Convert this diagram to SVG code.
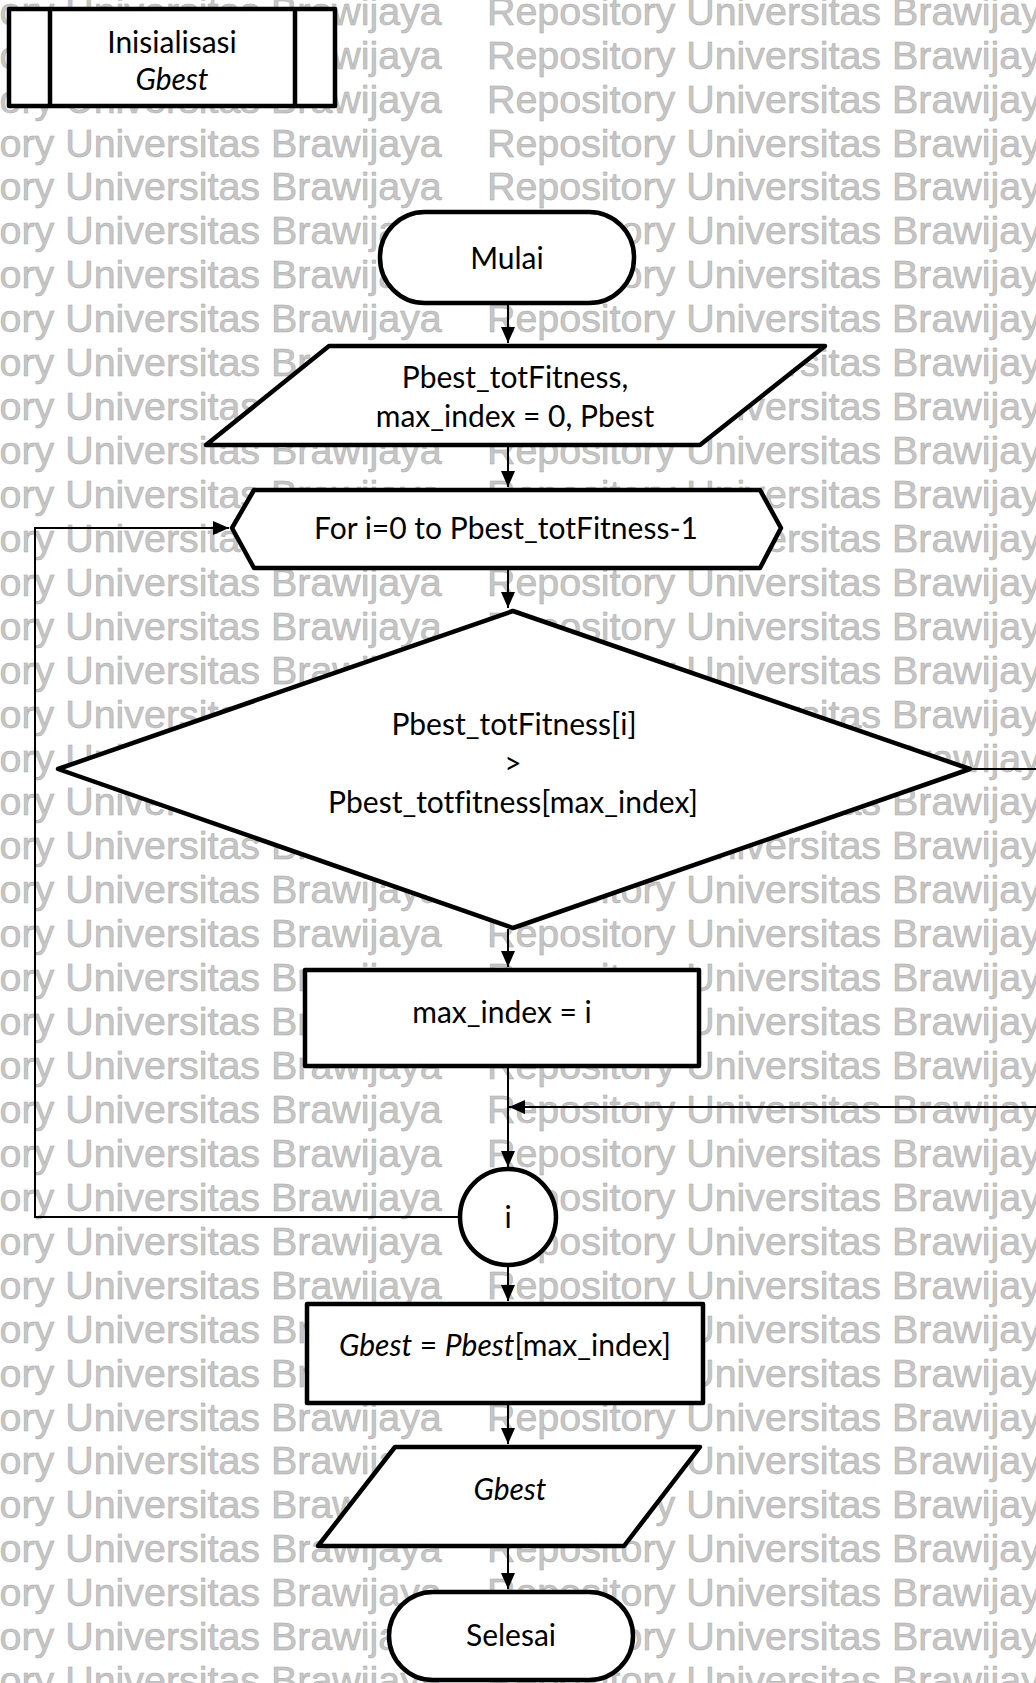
<svg xmlns="http://www.w3.org/2000/svg" xmlns:xlink="http://www.w3.org/1999/xlink" width="1036" height="1683" viewBox="0 0 1036 1683">
  <defs>
    <marker id="arrow" viewBox="0 0 16 14" refX="16" refY="7" markerWidth="16" markerHeight="14" markerUnits="userSpaceOnUse" orient="auto">
      <path d="M0,0 L16,7 L0,14 z" fill="#000"/>
    </marker>
  </defs>
  <style>
    .wm { font-family: "Liberation Sans", Arial, sans-serif; font-size: 39.4px; fill: #c6c6c6; stroke: #a8a8a8; stroke-width: 0.5px; }
    .shape { fill: #fff; stroke: #000; stroke-width: 4.5; stroke-linejoin: round; }
    .divider { fill: none; stroke: #000; stroke-width: 4.5; }
    .edge { fill: none; stroke: #000; stroke-width: 2; marker-end: url(#arrow); }
    .label { font-family: Lato, "Open Sans", sans-serif; font-size: 30px; fill: #000; text-anchor: middle; font-variant-ligatures: none; }
    .it { font-style: italic; }
  </style>

  <rect width="1036" height="1683" fill="#fff"/>

  <!-- repository watermark rows -->
  <g id="watermark">
    <text class="wm" y="24.7"><tspan x="-134">Repository Universitas Brawijaya</tspan><tspan x="487">Repository Universitas Brawijaya</tspan></text>
    <text class="wm" y="68.6"><tspan x="-134">Repository Universitas Brawijaya</tspan><tspan x="487">Repository Universitas Brawijaya</tspan></text>
    <text class="wm" y="112.6"><tspan x="-134">Repository Universitas Brawijaya</tspan><tspan x="487">Repository Universitas Brawijaya</tspan></text>
    <text class="wm" y="156.5"><tspan x="-134">Repository Universitas Brawijaya</tspan><tspan x="487">Repository Universitas Brawijaya</tspan></text>
    <text class="wm" y="200.4"><tspan x="-134">Repository Universitas Brawijaya</tspan><tspan x="487">Repository Universitas Brawijaya</tspan></text>
    <text class="wm" y="244.4"><tspan x="-134">Repository Universitas Brawijaya</tspan><tspan x="487">Repository Universitas Brawijaya</tspan></text>
    <text class="wm" y="288.3"><tspan x="-134">Repository Universitas Brawijaya</tspan><tspan x="487">Repository Universitas Brawijaya</tspan></text>
    <text class="wm" y="332.2"><tspan x="-134">Repository Universitas Brawijaya</tspan><tspan x="487">Repository Universitas Brawijaya</tspan></text>
    <text class="wm" y="376.1"><tspan x="-134">Repository Universitas Brawijaya</tspan><tspan x="487">Repository Universitas Brawijaya</tspan></text>
    <text class="wm" y="420.1"><tspan x="-134">Repository Universitas Brawijaya</tspan><tspan x="487">Repository Universitas Brawijaya</tspan></text>
    <text class="wm" y="464"><tspan x="-134">Repository Universitas Brawijaya</tspan><tspan x="487">Repository Universitas Brawijaya</tspan></text>
    <text class="wm" y="507.9"><tspan x="-134">Repository Universitas Brawijaya</tspan><tspan x="487">Repository Universitas Brawijaya</tspan></text>
    <text class="wm" y="551.9"><tspan x="-134">Repository Universitas Brawijaya</tspan><tspan x="487">Repository Universitas Brawijaya</tspan></text>
    <text class="wm" y="595.8"><tspan x="-134">Repository Universitas Brawijaya</tspan><tspan x="487">Repository Universitas Brawijaya</tspan></text>
    <text class="wm" y="639.7"><tspan x="-134">Repository Universitas Brawijaya</tspan><tspan x="487">Repository Universitas Brawijaya</tspan></text>
    <text class="wm" y="683.7"><tspan x="-134">Repository Universitas Brawijaya</tspan><tspan x="487">Repository Universitas Brawijaya</tspan></text>
    <text class="wm" y="727.6"><tspan x="-134">Repository Universitas Brawijaya</tspan><tspan x="487">Repository Universitas Brawijaya</tspan></text>
    <text class="wm" y="771.5"><tspan x="-134">Repository Universitas Brawijaya</tspan><tspan x="487">Repository Universitas Brawijaya</tspan></text>
    <text class="wm" y="815.4"><tspan x="-134">Repository Universitas Brawijaya</tspan><tspan x="487">Repository Universitas Brawijaya</tspan></text>
    <text class="wm" y="859.4"><tspan x="-134">Repository Universitas Brawijaya</tspan><tspan x="487">Repository Universitas Brawijaya</tspan></text>
    <text class="wm" y="903.3"><tspan x="-134">Repository Universitas Brawijaya</tspan><tspan x="487">Repository Universitas Brawijaya</tspan></text>
    <text class="wm" y="947.2"><tspan x="-134">Repository Universitas Brawijaya</tspan><tspan x="487">Repository Universitas Brawijaya</tspan></text>
    <text class="wm" y="991.2"><tspan x="-134">Repository Universitas Brawijaya</tspan><tspan x="487">Repository Universitas Brawijaya</tspan></text>
    <text class="wm" y="1035.1"><tspan x="-134">Repository Universitas Brawijaya</tspan><tspan x="487">Repository Universitas Brawijaya</tspan></text>
    <text class="wm" y="1079"><tspan x="-134">Repository Universitas Brawijaya</tspan><tspan x="487">Repository Universitas Brawijaya</tspan></text>
    <text class="wm" y="1123"><tspan x="-134">Repository Universitas Brawijaya</tspan><tspan x="487">Repository Universitas Brawijaya</tspan></text>
    <text class="wm" y="1166.9"><tspan x="-134">Repository Universitas Brawijaya</tspan><tspan x="487">Repository Universitas Brawijaya</tspan></text>
    <text class="wm" y="1210.8"><tspan x="-134">Repository Universitas Brawijaya</tspan><tspan x="487">Repository Universitas Brawijaya</tspan></text>
    <text class="wm" y="1254.7"><tspan x="-134">Repository Universitas Brawijaya</tspan><tspan x="487">Repository Universitas Brawijaya</tspan></text>
    <text class="wm" y="1298.7"><tspan x="-134">Repository Universitas Brawijaya</tspan><tspan x="487">Repository Universitas Brawijaya</tspan></text>
    <text class="wm" y="1342.6"><tspan x="-134">Repository Universitas Brawijaya</tspan><tspan x="487">Repository Universitas Brawijaya</tspan></text>
    <text class="wm" y="1386.5"><tspan x="-134">Repository Universitas Brawijaya</tspan><tspan x="487">Repository Universitas Brawijaya</tspan></text>
    <text class="wm" y="1430.5"><tspan x="-134">Repository Universitas Brawijaya</tspan><tspan x="487">Repository Universitas Brawijaya</tspan></text>
    <text class="wm" y="1474.4"><tspan x="-134">Repository Universitas Brawijaya</tspan><tspan x="487">Repository Universitas Brawijaya</tspan></text>
    <text class="wm" y="1518.3"><tspan x="-134">Repository Universitas Brawijaya</tspan><tspan x="487">Repository Universitas Brawijaya</tspan></text>
    <text class="wm" y="1562.3"><tspan x="-134">Repository Universitas Brawijaya</tspan><tspan x="487">Repository Universitas Brawijaya</tspan></text>
    <text class="wm" y="1606.2"><tspan x="-134">Repository Universitas Brawijaya</tspan><tspan x="487">Repository Universitas Brawijaya</tspan></text>
    <text class="wm" y="1650.1"><tspan x="-134">Repository Universitas Brawijaya</tspan><tspan x="487">Repository Universitas Brawijaya</tspan></text>
    <text class="wm" y="1694"><tspan x="-134">Repository Universitas Brawijaya</tspan><tspan x="487">Repository Universitas Brawijaya</tspan></text>
  </g>

  <!-- connectors -->
  <g id="connectors">
    <path class="edge" d="M508,303 V343"/>
    <path class="edge" d="M508,446 V487"/>
    <path class="edge" d="M508,569 V608"/>
    <path class="edge" d="M508,929 V967"/>
    <path class="edge" d="M508,1067 V1167"/>
    <path class="edge" d="M508,1265 V1301"/>
    <path class="edge" d="M508,1404 V1444"/>
    <path class="edge" d="M508,1547 V1589"/>
    <!-- false branch: out to the right edge and back into the main line -->
    <path class="edge" d="M972,769 H1042 V1107 H509"/>
    <!-- loop back from connector i to the for header -->
    <path class="edge" d="M459,1217 H35 V528 H229"/>
  </g>

  <!-- predefined process -->
  <g id="init-gbest">
    <rect class="shape" x="9" y="9" width="326" height="97"/>
    <line class="divider" x1="50" y1="9" x2="50" y2="106"/>
    <line class="divider" x1="295" y1="9" x2="295" y2="106"/>
    <text class="label" x="172" y="53">Inisialisasi</text>
    <text class="label it" x="172" y="90">Gbest</text>
  </g>

  <g id="start">
    <rect class="shape" x="380" y="212" width="254" height="91" rx="45" ry="45"/>
    <text class="label" x="507" y="269">Mulai</text>
  </g>

  <g id="input">
    <polygon class="shape" points="329,346 825,346 700,445 206,445"/>
    <text class="label" x="515" y="388">Pbest_totFitness,</text>
    <text class="label" x="515" y="427">max_index = 0, Pbest</text>
  </g>

  <g id="loop">
    <polygon class="shape" points="232,528 254,490 760,490 781,528 760,568 254,568"/>
    <text class="label" x="506" y="539">For i=0 to Pbest_totFitness-1</text>
  </g>

  <g id="decision">
    <polygon class="shape" points="513,611 970,769 513,928 58,769"/>
    <text class="label" x="514" y="735">Pbest_totFitness[i]</text>
    <text class="label" x="513" y="774">&gt;</text>
    <text class="label" x="513" y="813">Pbest_totfitness[max_index]</text>
  </g>

  <g id="update-index">
    <rect class="shape" x="305" y="970" width="394" height="96"/>
    <text class="label" x="502" y="1023">max_index = i</text>
  </g>

  <g id="connector-i">
    <circle class="shape" cx="508" cy="1217" r="48"/>
    <text class="label" x="508" y="1228">i</text>
  </g>

  <g id="assign-gbest">
    <rect class="shape" x="307" y="1304" width="396" height="99"/>
    <text class="label" x="505" y="1356"><tspan class="it">Gbest</tspan> = <tspan class="it">Pbest</tspan>[max_index]</text>
  </g>

  <g id="output">
    <polygon class="shape" points="395,1447 700,1447 624,1546 318,1546"/>
    <text class="label it" x="510" y="1500">Gbest</text>
  </g>

  <g id="end">
    <rect class="shape" x="389" y="1592" width="244" height="88" rx="44" ry="44"/>
    <text class="label" x="511" y="1646">Selesai</text>
  </g>
</svg>
